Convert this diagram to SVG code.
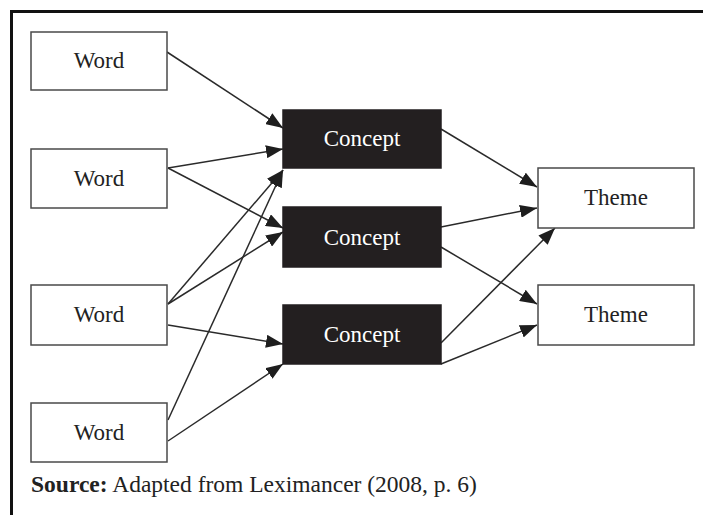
<svg xmlns="http://www.w3.org/2000/svg" width="703" height="515" viewBox="0 0 703 515">
  <style>
    .box { fill: #ffffff; stroke: #4a4a4a; stroke-width: 1.5; }
    .dark { fill: #231f20; stroke: #231f20; stroke-width: 1.5; }
    .lbl { font-family: "Liberation Serif", "Times New Roman", serif; font-size: 23px; text-anchor: middle; fill: #222; }
    .lbl-w { font-family: "Liberation Serif", "Times New Roman", serif; font-size: 23px; text-anchor: middle; fill: #ffffff; }
    .edge { stroke: #2a2a2a; stroke-width: 1.5; fill: none; marker-end: url(#arrow); }
    .src { font-family: "Liberation Serif", "Times New Roman", serif; font-size: 23.5px; fill: #222; }
  </style>
  <defs>
    <marker id="arrow" viewBox="0 0 17 13" refX="17" refY="6.5" markerWidth="17" markerHeight="13" markerUnits="userSpaceOnUse" orient="auto">
      <path d="M0,0 L17,6.5 L0,13 Z" fill="#1e1e1e"/>
    </marker>
  </defs>

  <rect width="703" height="515" fill="#ffffff"/>

  <!-- frame: top and left rules -->
  <path d="M11.5,515 L11.5,11.5 L703,11.5" fill="none" stroke="#111" stroke-width="3"/>

  <!-- connectors -->
  <g id="edges">
    <line class="edge" x1="167" y1="52" x2="283" y2="128"/>
    <line class="edge" x1="168" y1="168" x2="283" y2="149"/>
    <line class="edge" x1="168" y1="168" x2="283" y2="228"/>
    <line class="edge" x1="168" y1="304" x2="283" y2="170"/>
    <line class="edge" x1="168" y1="304" x2="283" y2="232"/>
    <line class="edge" x1="168" y1="420" x2="283" y2="170"/>
    <line class="edge" x1="168" y1="325" x2="283" y2="344"/>
    <line class="edge" x1="168" y1="441" x2="283" y2="364"/>
    <line class="edge" x1="441" y1="129" x2="537" y2="187"/>
    <line class="edge" x1="441" y1="227" x2="537" y2="208"/>
    <line class="edge" x1="441" y1="247" x2="537" y2="304"/>
    <line class="edge" x1="441" y1="343" x2="555" y2="228"/>
    <line class="edge" x1="441" y1="364" x2="537" y2="325"/>
  </g>

  <g id="word1"><rect class="box" x="31" y="32" width="136" height="58"/><text class="lbl" x="99" y="68">Word</text></g>
  <g id="word2"><rect class="box" x="31" y="149" width="136" height="59"/><text class="lbl" x="99" y="186">Word</text></g>
  <g id="word3"><rect class="box" x="31" y="285" width="136" height="60"/><text class="lbl" x="99" y="322">Word</text></g>
  <g id="word4"><rect class="box" x="31" y="403" width="136" height="59"/><text class="lbl" x="99" y="440">Word</text></g>

  <g id="concept1"><rect class="dark" x="283" y="110" width="158" height="58"/><text class="lbl-w" x="362" y="146">Concept</text></g>
  <g id="concept2"><rect class="dark" x="283" y="207" width="158" height="60"/><text class="lbl-w" x="362" y="245">Concept</text></g>
  <g id="concept3"><rect class="dark" x="283" y="305" width="158" height="59"/><text class="lbl-w" x="362" y="342">Concept</text></g>

  <g id="theme1"><rect class="box" x="538" y="168" width="156" height="60"/><text class="lbl" x="616" y="205">Theme</text></g>
  <g id="theme2"><rect class="box" x="538" y="285" width="156" height="60"/><text class="lbl" x="616" y="322">Theme</text></g>

  <text class="src" x="31" y="492"><tspan font-weight="bold">Source:</tspan> Adapted from Leximancer (2008, p. 6)</text>
</svg>
